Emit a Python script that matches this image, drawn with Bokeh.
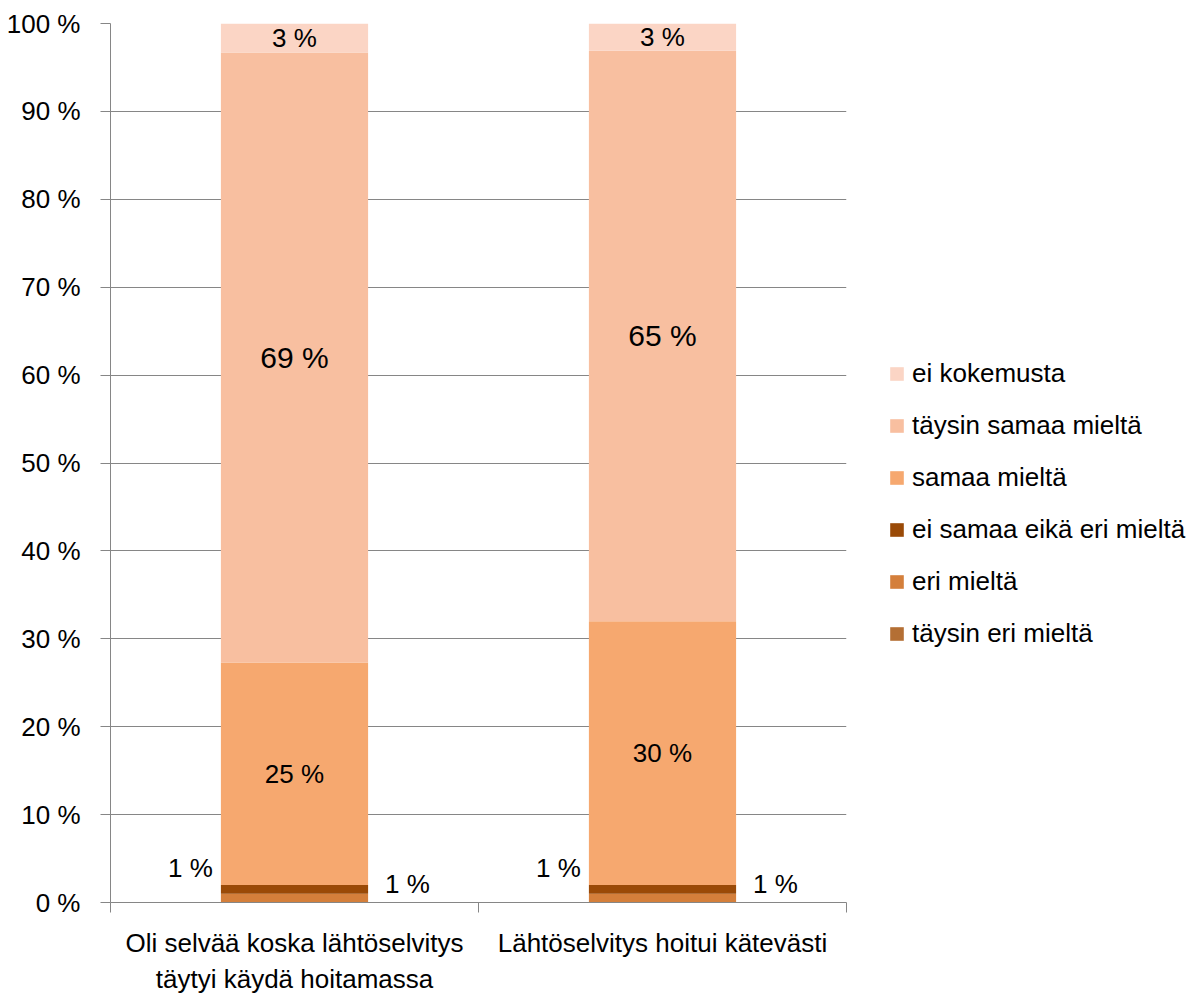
from bokeh.plotting import figure
from bokeh.models import ColumnDataSource, FixedTicker, Legend, LegendItem, Range1d
from bokeh.embed import file_html
from bokeh.resources import INLINE
from bokeh.core.properties import value

categories = ["Oli selvää koska lähtöselvitys\ntäytyi käydä hoitamassa",
              "Lähtöselvitys hoitui kätevästi"]
series = ["täysin eri mieltä", "eri mieltä", "ei samaa eikä eri mieltä",
          "samaa mieltä", "täysin samaa mieltä", "ei kokemusta"]
taysin_eri = [0.0, 0.0]
eri = [1.0, 1.0]
ei_samaa = [1.0, 1.0]
samaa = [25.3, 30.0]
taysin_samaa = [69.4, 64.9]
ei_kokemusta = [3.3, 3.1]
colors = ["#B46F34", "#D47F3B", "#9A4A07", "#F6A86F", "#F8BFA0", "#FBD5C5"]
y_ticks = [0, 10, 20, 30, 40, 50, 60, 70, 80, 90, 100]

FONT = "Liberation Sans, Arial, sans-serif"
GRID = "#868686"

xs = [0.5, 1.5]
data = dict(x=xs)
keys = ["s0", "s1", "s2", "s3", "s4", "s5"]
vals = [taysin_eri, eri, ei_samaa, samaa, taysin_samaa, ei_kokemusta]
for k, v in zip(keys, vals):
    data[k] = v
source = ColumnDataSource(data)

p = figure(frame_width=736, frame_height=879, output_backend="svg", toolbar_location=None,
           x_range=Range1d(0, 2), y_range=Range1d(0, 100),
           min_border_left=110, min_border_right=351, min_border_top=23, min_border_bottom=96)
p.outline_line_color = None
p.background_fill_color = "white"

renderers = p.vbar_stack(keys, x="x", width=0.4, source=source, color=colors, line_color=None)

# axes
p.xgrid.grid_line_color = None
p.ygrid.grid_line_color = GRID
p.ygrid.ticker = FixedTicker(ticks=y_ticks)

p.yaxis.ticker = FixedTicker(ticks=y_ticks)
p.yaxis.major_label_overrides = {t: f"{t} %" for t in y_ticks}
p.yaxis.major_label_text_font = FONT
p.yaxis.major_label_text_font_size = "26px"
p.yaxis.major_label_text_color = "black"
p.yaxis.axis_line_color = GRID
p.yaxis.major_tick_line_color = GRID
p.yaxis.major_tick_out = 10
p.yaxis.major_tick_in = 0
p.yaxis.minor_tick_line_color = None
p.yaxis.major_label_standoff = 20

p.xaxis.ticker = FixedTicker(ticks=xs, minor_ticks=[0, 1, 2])
p.xaxis.major_label_overrides = {x: c for x, c in zip(xs, categories)}
p.xaxis.major_label_text_font = FONT
p.xaxis.major_label_text_font_size = "26px"
p.xaxis.major_label_text_color = "black"
p.xaxis.axis_line_color = GRID
p.xaxis.major_tick_line_color = None
p.xaxis.major_tick_out = 0
p.xaxis.major_tick_in = 0
p.xaxis.minor_tick_line_color = GRID
p.xaxis.minor_tick_out = 10
p.xaxis.minor_tick_in = 0
p.xaxis.major_label_standoff = 15

# data labels (centres of segments)
lab_x, lab_y, lab_t, lab_size = [], [], [], []
for i in range(2):
    base = 0.0
    for j, v in enumerate(vals):
        seg = v[i]
        if j >= 3 and seg > 0:
            lab_x.append(xs[i])
            lab_y.append(base + seg / 2)
            lab_t.append(f"{round(seg)} %")
            lab_size.append("30px" if j == 4 else "26px")
        base += seg
lsrc = ColumnDataSource(dict(x=lab_x, y=lab_y, t=lab_t, s=lab_size))
p.text(x="x", y="y", text="t", source=lsrc, text_font=value(FONT), text_font_size="s",
       text_align="center", text_baseline="middle", text_color="black")

# small segment labels placed beside the bars
lx, ly, lt = [], [], []
rx, ry, rt = [], [], []
for i in range(2):
    lx.append(xs[i] - 0.2)
    ly.append(eri[i] + ei_samaa[i] / 2)
    lt.append(f"{round(ei_samaa[i])} %")
    rx.append(xs[i] + 0.2)
    ry.append(eri[i] / 2)
    rt.append(f"{round(eri[i])} %")
p.text(x=lx, y=ly, text=lt, text_font=value(FONT), text_font_size="26px",
       text_align="right", text_baseline="middle", x_offset=-8, y_offset=-21, text_color="black")
p.text(x=rx, y=ry, text=rt, text_font=value(FONT), text_font_size="26px",
       text_align="left", text_baseline="middle", x_offset=17, y_offset=-14, text_color="black")

items = [LegendItem(label=series[j], renderers=[renderers[j]]) for j in reversed(range(6))]
legend = Legend(items=items, location=(42, 253), orientation="vertical",
                label_text_font=FONT, label_text_font_size="26px", label_text_color="black",
                glyph_width=17, glyph_height=17, label_height=30,
                spacing=21, padding=0, margin=0, border_line_color=None,
                background_fill_alpha=0, label_standoff=7)
p.add_layout(legend, "right")

open("out.html", "w").write(file_html(p, INLINE))
